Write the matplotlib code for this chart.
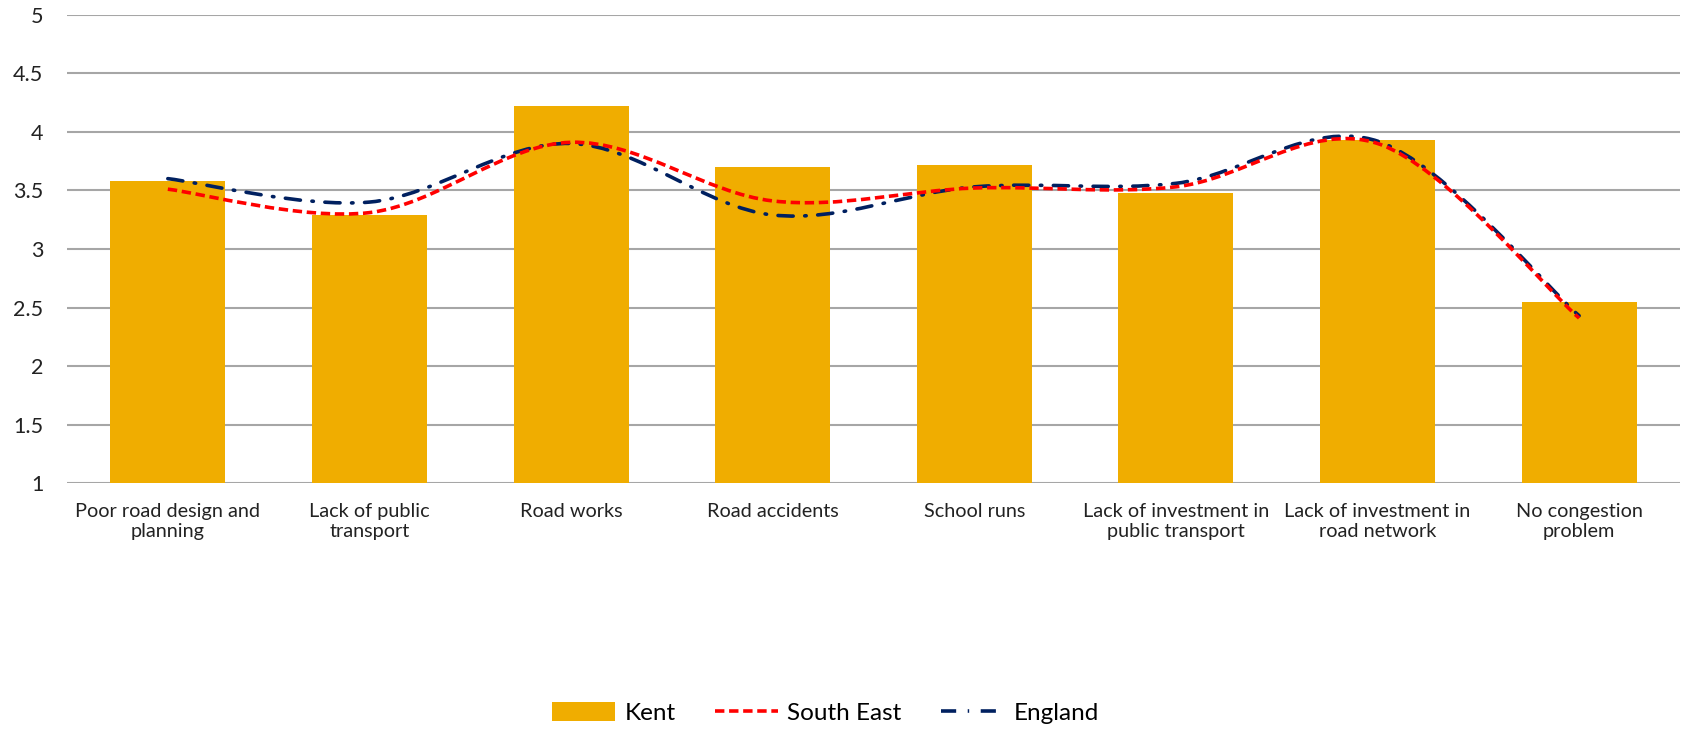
import numpy as np
import matplotlib
matplotlib.use("Agg")
import matplotlib.pyplot as plt
from matplotlib.path import Path
from matplotlib.patches import PathPatch
from matplotlib.lines import Line2D
from matplotlib.patches import Patch

plt.rcParams['font.family'] = ['Lato', 'DejaVu Sans']

categories = ["Poor road design and\nplanning", "Lack of public\ntransport", "Road works",
              "Road accidents", "School runs", "Lack of investment in\npublic transport",
              "Lack of investment in\nroad network", "No congestion\nproblem"]
kent = [3.58, 3.29, 4.22, 3.70, 3.72, 3.48, 3.93, 2.55]
south_east = [3.51, 3.31, 3.91, 3.41, 3.52, 3.53, 3.90, 2.41]
england = [3.60, 3.40, 3.90, 3.29, 3.53, 3.56, 3.92, 2.43]

gold = "#F0AD00"
red = "#FF0000"
navy = "#002060"
se_style = (0, (2.6, 1.3))
en_style = (0, (4.2, 3.2, 0.4, 3.2))


def smooth_path(xs, ys):
    # excel-like smoothed line: catmull-rom turned into cubic bezier segments
    pts = np.column_stack([xs, ys]).astype(float)
    n = len(pts)
    verts = [pts[0]]
    codes = [Path.MOVETO]
    for i in range(n - 1):
        p0 = pts[i - 1] if i > 0 else pts[i]
        p1 = pts[i]
        p2 = pts[i + 1]
        p3 = pts[i + 2] if i + 2 < n else pts[i + 1]
        c1 = p1 + (p2 - p0) / 6.0
        c2 = p2 - (p3 - p1) / 6.0
        verts += [c1, c2, p2]
        codes += [Path.CURVE4] * 3
    return Path(verts, codes)


fig = plt.figure(figsize=(16.84, 7.29), dpi=100)
ax = fig.add_axes([0.0398, 0.337, 0.9578, 0.643])

x = np.arange(len(categories))
ax.bar(x, [v - 1 for v in kent], bottom=1, width=0.57, color=gold, zorder=2)

se_patch = PathPatch(smooth_path(x, south_east), fill=False, edgecolor=red, lw=2.6,
                     linestyle=se_style, zorder=4, capstyle='butt')
ax.add_patch(se_patch)
en_patch = PathPatch(smooth_path(x, england), fill=False, edgecolor=navy, lw=2.6,
                     linestyle=en_style, zorder=3, capstyle='round')
ax.add_patch(en_patch)

ax.set_xlim(-0.5, len(categories) - 0.5)
ax.set_ylim(1, 5)
ax.set_yticks([1, 1.5, 2, 2.5, 3, 3.5, 4, 4.5, 5])
ax.set_yticklabels(["1", "1.5", "2", "2.5", "3", "3.5", "4", "4.5", "5"])
ax.set_xticks(x)
ax.set_xticklabels(categories, fontsize=14.3, color="#222222")
ax.tick_params(axis='y', length=0, pad=17, labelsize=15.5, labelcolor="#222222")
ax.tick_params(axis='x', length=0, pad=14)
ax.grid(axis='y', color="#A6A6A6", lw=1.5, zorder=1)
ax.set_axisbelow(True)
for s in ax.spines.values():
    s.set_visible(False)

handles = [Patch(facecolor=gold, edgecolor='none'),
           Line2D([], [], color=red, lw=2.6, linestyle=se_style),
           Line2D([], [], color=navy, lw=2.6, linestyle=en_style)]
fig.legend(handles, ["Kent", "South East", "England"], loc='center',
           bbox_to_anchor=(0.490, 0.022), ncol=3, frameon=False, fontsize=17.5,
           handlelength=2.6, handleheight=0.8, columnspacing=1.6, handletextpad=0.4)

fig.savefig("out.png", dpi=100)
